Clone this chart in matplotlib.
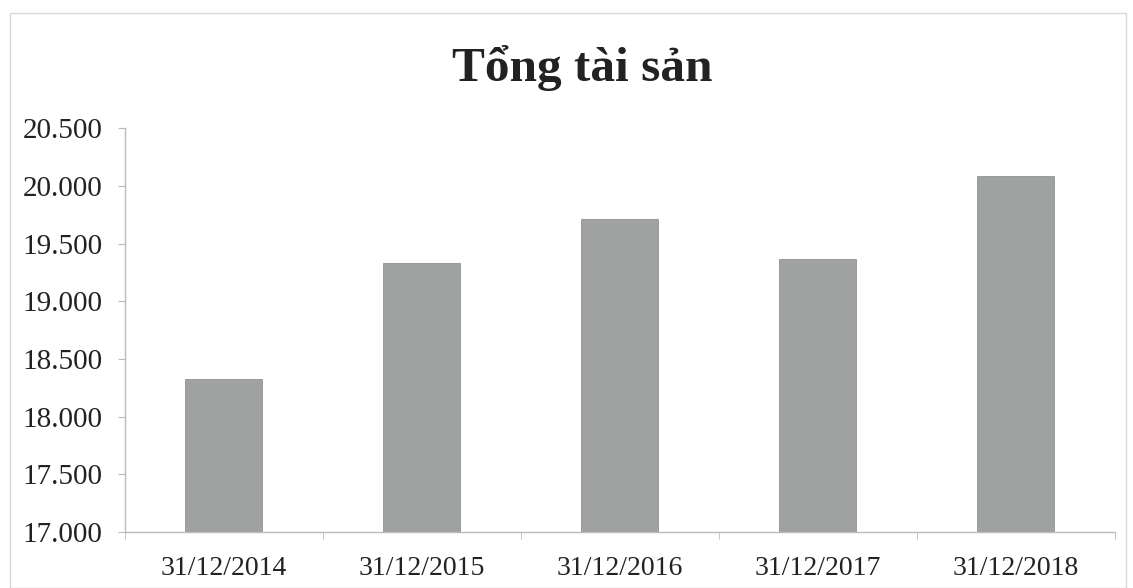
import matplotlib
matplotlib.use("Agg")
import matplotlib.pyplot as plt
import matplotlib.ticker as mticker
from matplotlib.patches import Rectangle

# Tong tai san at year end
dates = ["31/12/2014", "31/12/2015", "31/12/2016", "31/12/2017", "31/12/2018"]
total_assets = [18330, 19330, 19710, 19370, 20090]

plt.rcParams["font.family"] = ["Liberation Serif", "DejaVu Serif"]

fig = plt.figure(figsize=(11.33, 5.88), dpi=100)
ax = fig.add_axes([0.110, 0.095, 0.874, 0.687])

x = list(range(len(dates)))
ax.bar(x, total_assets, width=0.39, color="#a0a2a2", edgecolor="#8f9292", linewidth=0.6)

ax.set_ylim(17000, 20500)
ax.set_xlim(-0.5, len(dates) - 0.5)
ax.yaxis.set_major_locator(mticker.MultipleLocator(500))
ax.yaxis.set_major_formatter(
    mticker.FuncFormatter(lambda v, _p: f"{int(v):,}".replace(",", "."))
)
ax.set_xticks(x)
ax.set_xticklabels(dates)
# Excel-style tick marks sit between categories
ax.set_xticks([i - 0.5 for i in range(len(dates) + 1)], minor=True)
ax.tick_params(axis="x", which="major", length=0, pad=17, labelsize=20, colors="#222222")
ax.tick_params(axis="x", which="minor", length=5, color="#bbbbbb")
ax.tick_params(axis="y", length=5, color="#bbbbbb", pad=11, labelsize=21, labelcolor="#222222")

for side in ("top", "right"):
    ax.spines[side].set_visible(False)
for side in ("left", "bottom"):
    ax.spines[side].set_color("#bbbbbb")
    ax.spines[side].set_linewidth(1.0)

fig.text(0.514, 0.884, "Tổng tài sản", ha="center", va="center",
         fontsize=35.5, fontweight="bold", color="#222222")

# faint frame of the scanned chart area
fig.patches.append(Rectangle((0.009, 0.0), 0.985, 0.978, transform=fig.transFigure,
                             fill=False, edgecolor="#d8d8d8", linewidth=1.0))

fig.savefig("out.png", dpi=100)
